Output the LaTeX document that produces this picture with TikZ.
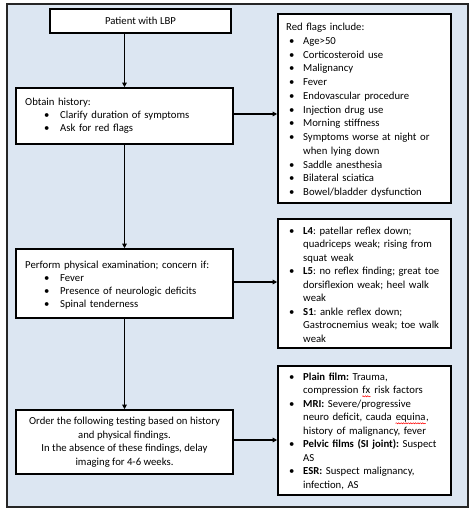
\documentclass[tikz,border=0pt]{standalone}
\usepackage{fontspec}
\setmainfont{Carlito}
\usetikzlibrary{arrows.meta,decorations.pathmorphing}
\definecolor{panel}{HTML}{DCE6F2}
\frenchspacing
\newlength\bulx
\newlength\itind
\newcommand\itm{\par\leftskip=\itind\noindent\hskip-\itind\hbox to \itind{\hskip\bulx\textbullet\hfil}\ignorespaces}
\newcommand\leftlist{\raggedright\frenchspacing\setlength\bulx{19bp}\setlength\itind{35bp}}
\newcommand\rightlist{\raggedright\frenchspacing\setlength\bulx{3bp}\setlength\itind{17bp}}
\newcommand\sq[1]{\tikz[baseline=0pt,x=1bp,y=1bp]{\node[inner sep=0pt,anchor=base west](sqw){#1};\draw[red,line width=0.5bp,decorate,decoration={snake,amplitude=0.55bp,segment length=2.4bp}] ([yshift=-2.6bp]sqw.base west) -- ([yshift=-2.6bp]sqw.base east);}}
\begin{document}
\begin{tikzpicture}[x=1bp,y=-1bp,
  box/.style={draw=black,line width=1.6bp,fill=white,inner sep=0pt},
  txt/.style={inner sep=0pt,anchor=north west,
    font=\fontsize{10.7bp}{13.5bp}\selectfont\frenchspacing},
  ftxt/.style={inner sep=0pt,anchor=north west,
    font=\fontsize{10.7bp}{13.75bp}\selectfont\frenchspacing},
  ltxt/.style={inner sep=0pt,anchor=north west,
    font=\fontsize{10.7bp}{13bp}\selectfont\frenchspacing},
  conn/.style={line width=1.3bp,-{Triangle[length=4.5bp,width=4.5bp]}}]
\useasboundingbox (0,0) rectangle (474,515);
\node[draw=black!85,line width=1.3bp,fill=panel,minimum width=461bp,minimum height=503bp,inner sep=0pt] (frame) at (237.5,255.5) {};
% boxes
\node[box,minimum width=181bp,minimum height=24bp] (lbp) at (140.5,21) {};
\node[box,minimum width=217bp,minimum height=56bp] (hist) at (124.5,116) {};
\node[box,minimum width=217bp,minimum height=69bp] (exam) at (124.5,283.5) {};
\node[box,minimum width=217bp,minimum height=64bp] (order) at (124.5,442) {};
\node[box,minimum width=173bp,minimum height=189bp] (flags) at (364.5,108.5) {};
\node[box,minimum width=173bp,minimum height=129bp] (neuro) at (364.5,283.5) {};
\node[box,minimum width=173bp,minimum height=129bp] (tests) at (364.5,430.5) {};
% texts
\node[txt,anchor=center] (lbpt) at (lbp.center) {Patient with LBP};
\node[ltxt,text width=210bp] (histt) at (25,97.5) {\leftlist Obtain history:
\itm Clarify duration of symptoms
\itm Ask for red flags\par};
\node[ltxt,text width=210bp] (examt) at (25,260.5) {\leftlist Perform physical examination; concern if:
\itm Fever
\itm Presence of neurologic deficits
\itm Spinal tenderness\par};
\node[txt,anchor=north,align=center] (ordert) at (124.5,417) {Order the following testing based on history\\and physical findings.\\In the absence of these findings, delay\\imaging for 4-6 weeks.};
\node[ftxt,text width=170bp] (flagst) at (286,23) {\rightlist Red flags include:
\itm Age>50
\itm Corticosteroid use
\itm Malignancy
\itm Fever
\itm Endovascular procedure
\itm Injection drug use
\itm Morning stiffness
\itm Symptoms worse at night or\newline when lying down
\itm Saddle anesthesia
\itm Bilateral sciatica
\itm Bowel/bladder dysfunction\par};
\node[txt,text width=170bp] (neurot) at (286,220.5) {\rightlist
\itm \textbf{L4}: patellar reflex down;\newline quadriceps weak; rising from\newline squat weak
\itm \textbf{L5}: no reflex finding; great toe\newline dorsiflexion weak; heel walk\newline weak
\itm \textbf{S1}: ankle reflex down;\newline Gastrocnemius weak; toe walk\newline weak\par};
\node[txt,text width=170bp] (testst) at (286,366.5) {\rightlist
\itm \textbf{Plain film:} Trauma,\newline compression \sq{fx} risk factors
\itm \textbf{MRI:} Severe/progressive\newline neuro deficit, cauda \sq{equina},\newline history of malignancy, fever
\itm \textbf{Pelvic films (SI joint):} Suspect\newline AS
\itm \textbf{ESR:} Suspect malignancy,\newline infection, AS\par};
% connectors
\draw[conn] (lbp.south -| hist.center) -- (hist.north);
\draw[conn] (hist.east |- 0,114) -- (flags.west |- 0,114);
\draw[conn] (hist.south) -- (exam.north);
\draw[conn] (exam.east |- 0,282) -- (neuro.west |- 0,282);
\draw[conn] (exam.south) -- (order.north);
\draw[conn] (order.east |- 0,440) -- (tests.west |- 0,440);
\end{tikzpicture}
\end{document}
